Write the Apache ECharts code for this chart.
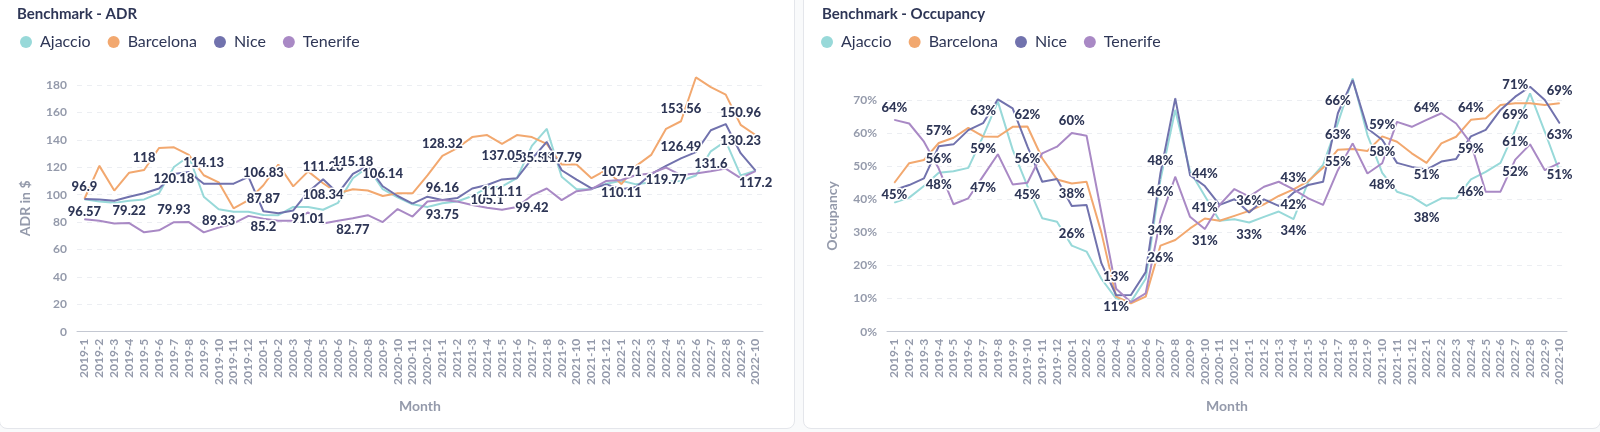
<!DOCTYPE html>
<html><head><meta charset="utf-8">
<script src="https://cdn.jsdelivr.net/npm/echarts@6/dist/echarts.min.js"></script>
<style>
html,body{margin:0;padding:0;width:1600px;height:432px;overflow:hidden;background:#f9fafb;font-family:Lato,sans-serif}
.card{position:absolute;top:-12px;height:441px;background:#fff;border:1px solid #e4e6eb;border-radius:8px;box-sizing:border-box}
#chart{position:absolute;left:0;top:0;width:1600px;height:432px}
</style></head><body>
<div class="card" style="left:-1px;width:796px"></div>
<div class="card" style="left:803px;width:798px"></div>
<div id="chart"></div>
<script>
const months = ['2019-1','2019-2','2019-3','2019-4','2019-5','2019-6','2019-7','2019-8','2019-9','2019-10','2019-11','2019-12',
  '2020-1','2020-2','2020-3','2020-4','2020-5','2020-6','2020-7','2020-8','2020-9','2020-10','2020-11','2020-12',
  '2021-1','2021-2','2021-3','2021-4','2021-5','2021-6','2021-7','2021-8','2021-9','2021-10','2021-11','2021-12',
  '2022-1','2022-2','2022-3','2022-4','2022-5','2022-6','2022-7','2022-8','2022-9','2022-10'];
const cities = ['Ajaccio','Barcelona','Nice','Tenerife'];

// ADR (USD)
const adrAjaccio = [96.57,95,94,95.5,96.5,101,120.18,128,98.5,89.33, 87.5,87.5,85.2,85,91,91.01,89,94,112,120, 104,98,93,91,93.75,95,99,105.1,106,112, 135.56,148,113,104,104,108,110.11,107.5,109,109.5, 110,114,131.6,139,114,117.5];
const adrBarcelona = [97,121,103,116,118,134,134.5,129,114.13,109, 90,96,106.83,122,106,117,108.34,101,104,103, 99,101,101,114,128.32,134,142,143.5,137.05,143.5, 142,137,122,122,112,118,107.71,121,129,148, 153.56,185.5,178.5,173,150.96,143.5];
const adrNice = [96.9,96.5,95.5,98.5,101,104.5,115,116.5,108,108, 108,113,87.87,86.5,88.5,102,111.26,101,115.18,121, 106.14,99,93.5,98.5,96.16,97.5,104.5,107,111.11,112, 126,138.5,117.79,111,104.5,107.5,104,105.5,115,121, 126.49,131,147,151.5,130.23,117.5];
const adrTenerife = [82,81,79,79.22,72.5,74,79.93,80,72.5,76, 79,84.5,82.5,81,81,87,79,81,82.77,85, 80,89.5,84,95,96,95,92.5,90.5,89,91, 99.42,104.5,96,102.5,104,110,110.7,114.3,115.5,119.77, 114.3,115.5,117,119,112,117.2];

// Occupancy (%)
const occAjaccio = [39,40.5,44,48,48.5,49.5,59,69.5,55,44, 34.3,33.2,26,24.2,16,10,9,16,46,67, 48.5,41,33.5,34,33,34.7,36.3,34,45.3,50.4, 63,76.5,59.4,48,42.3,40.8,38,40.3,40.3,46, 48.3,51,61,72,60.4,48.3];
const occBarcelona = [45,50.9,51.9,57,58.6,61.6,59,58.9,61.9,62, 52.4,46,44.8,45.3,30,10.6,8.6,10.6,26,27.7, 31.2,34.2,33.5,35,36.5,38.5,41,43,45.5,49.5, 55,55.2,54.6,59,57.4,53.9,51,56.9,58.9,64, 64.5,68.5,69,69,68.5,69];
const occNice = [42.8,44.3,46.3,56,56.6,60.9,63,70.2,67.5,56, 45.3,46.1,38,38.3,20.7,11,11.1,18,48,70.5, 47.3,44,38.3,40,36,40,38,42,44.3,45.3, 66,76,61.4,58,51,49.8,49,51.4,52.2,59, 61,67,71,74,70,63];
const occTenerife = [64,62.9,57.4,49.3,38.5,40.3,47,53.6,44.5,45, 53.9,55.9,60,59.2,36,13,8.9,11.6,34,46.8, 34.7,31,38.3,43.1,40.8,43.8,45.3,43,40.3,38.3, 48.8,56.9,47.8,50.9,63.4,61.9,64,66,62.9,56.9, 42.3,42.3,52,56.6,48.8,51];

// Which points carry a value label (indices), above or below the point
const adrTopAjaccio = [], adrBottomAjaccio = [0,6,9,12,15,24,27,30,36,42];
const adrTopBarcelona = [4,8,12,24,36,40,44], adrBottomBarcelona = [16,28];
const adrTopNice = [0,12,16,18,20,24,32,40,44], adrBottomNice = [28];
const adrTopTenerife = [3,6], adrBottomTenerife = [18,30,39,45];

const occTopAjaccio = [12], occBottomAjaccio = [3,18,21,24,27,30,33,36,39,42];
const occTopBarcelona = [3,9,33,39,45], occBottomBarcelona = [0,6,18,30,36,42];
const occTopNice = [6,12,18,21,24,30,42], occBottomNice = [3,9,15,27,33,39,45];
const occTopTenerife = [0,12,15,27,36], occBottomTenerife = [6,9,18,21,42,45];

const colors = {Ajaccio:'#98D9D9', Barcelona:'#F2A86F', Nice:'#7172AD', Tenerife:'#A989C5'};
const FONT = 'Lato';
const axisGray = '#949aab';
const textDark = '#2e3656';

function buildData(values, topIdx, bottomIdx) {
  return values.map((v, i) => {
    if (topIdx.includes(i)) return {value: v, label: {show: true, position: 'top'}};
    if (bottomIdx.includes(i)) return {value: v, label: {show: true, position: 'bottom'}};
    return v;
  });
}
function makeSeries(name, values, top, bottom, axisIdx, fmt) {
  return {
    type: 'line', name: name, xAxisIndex: axisIdx, yAxisIndex: axisIdx,
    data: buildData(values, top, bottom),
    symbol: 'circle', symbolSize: 1, showSymbol: true, clip: false,
    color: colors[name],
    lineStyle: {width: 2, color: colors[name]},
    itemStyle: {color: colors[name]},
    label: {show: false, formatter: fmt, fontFamily: FONT, fontSize: 13, fontWeight: 900,
            color: textDark, textBorderColor: '#fff', textBorderWidth: 3, distance: 5},
    emphasis: {disabled: true}, animation: false
  };
}
const adrFmt = p => String(p.value);
const occFmt = p => Math.round(p.value) + '%';

const chart = echarts.init(document.getElementById('chart'), null, {renderer: 'canvas'});
const xAxisBase = (gi) => ({
  type: 'category', gridIndex: gi, data: months, boundaryGap: true,
  axisLine: {lineStyle: {color: '#c4c8d2', width: 1}},
  axisTick: {show: false},
  axisLabel: {rotate: 90, interval: 0, fontFamily: FONT, fontSize: 12, fontWeight: 'bold', color: axisGray, margin: 7},
  name: 'Month', nameLocation: 'middle', nameGap: 68,
  nameTextStyle: {fontFamily: FONT, fontSize: 14, fontWeight: 'bold', color: axisGray}
});
const legendBase = (left) => ({
  left: left, top: 34, padding: 0, icon: 'circle', itemWidth: 12, itemHeight: 12, itemGap: 17,
  data: cities, textStyle: {fontFamily: FONT, fontSize: 16, color: textDark, padding: [0, 0, 0, 3]}
});
chart.setOption({
  animation: false,
  title: [
    {text: 'Benchmark - ADR', left: 17, top: 7, padding: 0, textStyle: {fontFamily: FONT, fontSize: 15, fontWeight: 'bold', color: textDark}},
    {text: 'Benchmark - Occupancy', left: 822, top: 7, padding: 0, textStyle: {fontFamily: FONT, fontSize: 15, fontWeight: 'bold', color: textDark}}
  ],
  legend: [legendBase(20), legendBase(821)],
  grid: [
    {left: 77, width: 686, top: 85, bottom: 100.3, containLabel: false},
    {left: 887, width: 680, top: 100, bottom: 100.3, containLabel: false}
  ],
  xAxis: [xAxisBase(0), xAxisBase(1)],
  yAxis: [
    {type: 'value', gridIndex: 0, min: 0, max: 180, interval: 20,
     axisLine: {show: false}, axisTick: {show: false},
     axisLabel: {fontFamily: FONT, fontSize: 12, fontWeight: 'bold', color: axisGray, margin: 10},
     splitLine: {lineStyle: {type: [5, 5], color: '#eceef2'}},
     name: 'ADR in $', nameLocation: 'middle', nameGap: 45,
     nameTextStyle: {fontFamily: FONT, fontSize: 14, fontWeight: 'bold', color: axisGray}},
    {type: 'value', gridIndex: 1, min: 0, max: 70, interval: 10,
     axisLine: {show: false}, axisTick: {show: false},
     axisLabel: {formatter: '{value}%', fontFamily: FONT, fontSize: 12, fontWeight: 'bold', color: axisGray, margin: 10},
     splitLine: {lineStyle: {type: [5, 5], color: '#eceef2'}},
     name: 'Occupancy', nameLocation: 'middle', nameGap: 48,
     nameTextStyle: {fontFamily: FONT, fontSize: 14, fontWeight: 'bold', color: axisGray}}
  ],
  series: [
    makeSeries('Ajaccio', adrAjaccio, adrTopAjaccio, adrBottomAjaccio, 0, adrFmt),
    makeSeries('Barcelona', adrBarcelona, adrTopBarcelona, adrBottomBarcelona, 0, adrFmt),
    makeSeries('Nice', adrNice, adrTopNice, adrBottomNice, 0, adrFmt),
    makeSeries('Tenerife', adrTenerife, adrTopTenerife, adrBottomTenerife, 0, adrFmt),
    makeSeries('Ajaccio', occAjaccio, occTopAjaccio, occBottomAjaccio, 1, occFmt),
    makeSeries('Barcelona', occBarcelona, occTopBarcelona, occBottomBarcelona, 1, occFmt),
    makeSeries('Nice', occNice, occTopNice, occBottomNice, 1, occFmt),
    makeSeries('Tenerife', occTenerife, occTopTenerife, occBottomTenerife, 1, occFmt)
  ]
});
</script>
</body></html>
